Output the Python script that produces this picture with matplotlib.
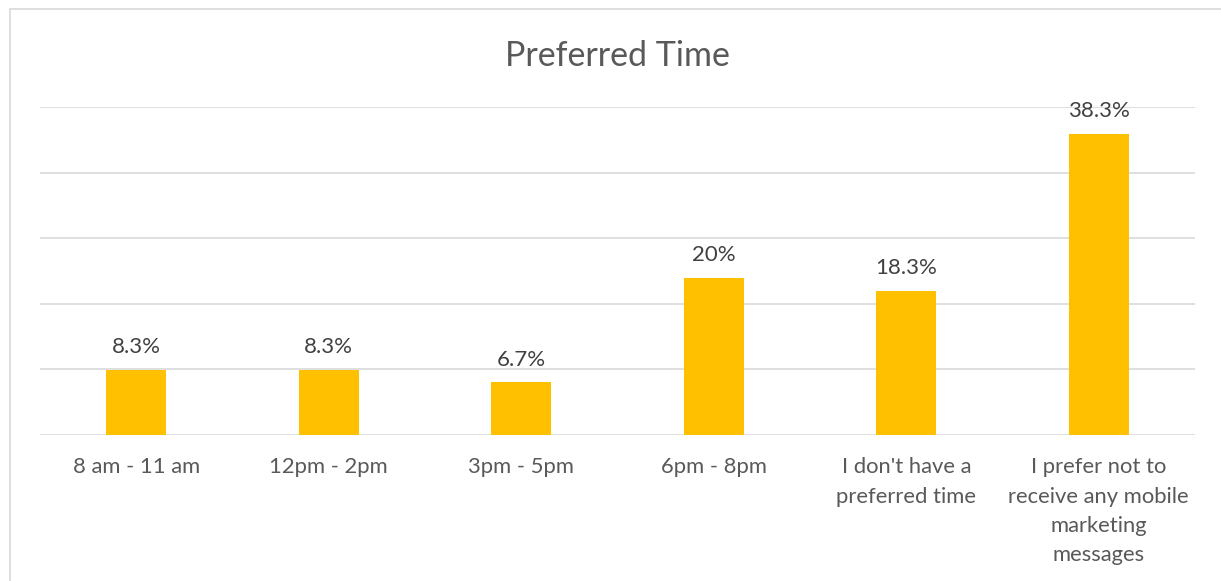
import matplotlib
matplotlib.use("Agg")
import matplotlib.pyplot as plt
from matplotlib.patches import Rectangle

categories = ["8 am - 11 am", "12pm - 2pm", "3pm - 5pm", "6pm - 8pm",
              "I don't have a\npreferred time",
              "I prefer not to\nreceive any mobile\nmarketing\nmessages"]
values = [8.3, 8.3, 6.7, 20.0, 18.3, 38.3]
labels = ["8.3%", "8.3%", "6.7%", "20%", "18.3%", "38.3%"]
grid_step = 100 / 12  # one gridline per 5 of 60 respondents
n_grid = 5

plt.rcParams['font.family'] = ['Lato', 'DejaVu Sans']

W, H = 1221, 581
fig = plt.figure(figsize=(W / 100, H / 100), dpi=100)
fig.patch.set_facecolor('white')

# chart border
fig.add_artist(Rectangle((10 / W, -0.05), 1.2, (H - 9) / H + 0.05, transform=fig.transFigure,
                         fill=False, edgecolor='#d9d9d9', linewidth=1.2))

ax = fig.add_axes([40 / W, (H - 435) / H, (1195 - 40) / W, (435 - 107) / H])
x = range(len(categories))
ax.bar(x, values, width=0.31, color='#FFC000', zorder=3)
ax.set_xlim(-0.5, len(categories) - 0.5)
ax.set_ylim(0, grid_step * n_grid)
ax.set_yticks([grid_step * i for i in range(n_grid + 1)])
ax.yaxis.grid(True, color='#d9d9d9', linewidth=1.2, zorder=0)
ax.tick_params(axis='y', left=False, labelleft=False)
ax.tick_params(axis='x', length=0, pad=16, labelsize=15.8, labelcolor='#595959')
ax.set_xticks(list(x))
ax.set_xticklabels(categories, linespacing=1.58, va='top')
for s in ax.spines.values():
    s.set_visible(False)
ax.set_facecolor('none')

for xi, v, lab in zip(x, values, labels):
    ax.annotate(lab, (xi, v), xytext=(0, 9), textcoords='offset points',
                ha='center', va='bottom', fontsize=16, color='#404040')

fig.text(617 / W, 1 - 56 / H, "Preferred Time", ha='center', va='center',
         fontsize=24.5, color='#595959')

fig.savefig('out.png', dpi=100)
